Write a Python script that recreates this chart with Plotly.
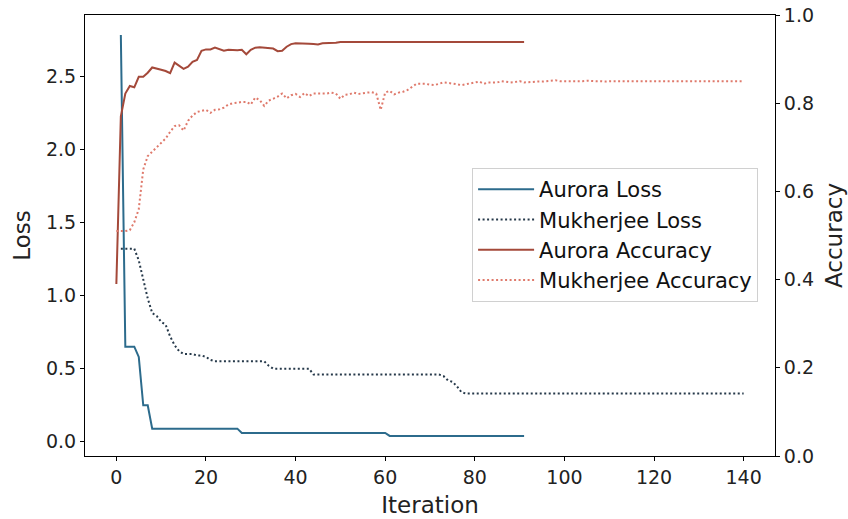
import plotly.graph_objects as go
from plotly.subplots import make_subplots

# Aurora loss, iterations 1..91
aurora_loss_x = list(range(1, 92))
aurora_loss = ([2.78, 0.65, 0.65, 0.65, 0.58, 0.25, 0.25] + [0.09] * 20 +
               [0.06] * 33 + [0.04] * 31)

# Mukherjee loss, iterations 1..140
mukherjee_loss_x = list(range(1, 141))
mukherjee_loss = ([1.32, 1.32, 1.32, 1.32, 1.24, 1.10, 0.98, 0.88, 0.86, 0.82,
                   0.80, 0.72, 0.66, 0.62, 0.60, 0.60, 0.60, 0.59, 0.59, 0.58,
                   0.56] + [0.55] * 12 + [0.52] + [0.50] * 9 + [0.46] * 29 +
                  [0.45, 0.42, 0.41, 0.38, 0.34] + [0.33] * 63)

# Aurora accuracy, iterations 0..91
aurora_acc_x = list(range(0, 92))
aurora_acc = [0.39, 0.77, 0.822, 0.839, 0.836, 0.860, 0.860, 0.869, 0.881, 0.879,
              0.876, 0.873, 0.868, 0.892, 0.885, 0.878, 0.883, 0.894, 0.898, 0.919,
              0.922, 0.922, 0.926, 0.922, 0.919, 0.921, 0.920, 0.920, 0.921, 0.911,
              0.921, 0.926, 0.927, 0.926, 0.926, 0.924, 0.918, 0.919, 0.928, 0.934,
              0.936, 0.936, 0.936, 0.935, 0.934, 0.933, 0.936, 0.936, 0.936, 0.937,
              0.939] + [0.939] * 41

# Mukherjee accuracy, iterations 0..140
mukherjee_acc_x = list(range(0, 141))
mukherjee_acc = [0.51, 0.51, 0.51, 0.512, 0.53, 0.56, 0.65, 0.68, 0.69, 0.70,
                 0.71, 0.72, 0.735, 0.748, 0.75, 0.738, 0.76, 0.772, 0.78, 0.783,
                 0.785, 0.778, 0.785, 0.786, 0.79, 0.797, 0.80, 0.801, 0.803, 0.803,
                 0.797, 0.813, 0.807, 0.794, 0.806, 0.81, 0.815, 0.822, 0.811, 0.818,
                 0.821, 0.814, 0.823, 0.816, 0.822, 0.822, 0.822, 0.822, 0.824, 0.822,
                 0.81, 0.819, 0.82, 0.824, 0.821, 0.823, 0.824, 0.825, 0.822, 0.785,
                 0.824, 0.828, 0.82, 0.824, 0.826, 0.83, 0.838, 0.844, 0.844, 0.844,
                 0.842, 0.841, 0.844, 0.847, 0.846, 0.845, 0.843, 0.841, 0.843, 0.846,
                 0.848, 0.849, 0.844, 0.847, 0.847, 0.847, 0.85, 0.848, 0.847, 0.848,
                 0.85, 0.847, 0.848, 0.848, 0.849, 0.849, 0.85, 0.851, 0.852, 0.85,
                 0.85, 0.85, 0.849, 0.85, 0.85, 0.851, 0.85, 0.85, 0.85, 0.849,
                 0.85, 0.85, 0.85, 0.85, 0.851, 0.85, 0.85, 0.85, 0.85, 0.85,
                 0.85, 0.85, 0.85, 0.85, 0.85, 0.85, 0.85, 0.85, 0.85, 0.85,
                 0.85, 0.85, 0.85, 0.85, 0.85, 0.85, 0.85, 0.85, 0.85, 0.85,
                 0.85]

x_ticks = [0, 20, 40, 60, 80, 100, 120, 140]
loss_ticks = [0.0, 0.5, 1.0, 1.5, 2.0, 2.5]
acc_ticks = [0.0, 0.2, 0.4, 0.6, 0.8, 1.0]

C_AL = "#2c6b8c"
C_ML = "#26394a"
C_AA = "#a4493a"
C_MA = "#df7a6c"
FONT = "DejaVu Sans"
DOT = "2px,2.5px"

fig = make_subplots(specs=[[{"secondary_y": True}]])
fig.add_trace(go.Scatter(x=aurora_loss_x, y=aurora_loss, mode="lines", name="Aurora Loss",
                         line=dict(color=C_AL, width=2)), secondary_y=False)
fig.add_trace(go.Scatter(x=mukherjee_loss_x, y=mukherjee_loss, mode="lines", name="Mukherjee Loss",
                         line=dict(color=C_ML, width=2, dash=DOT)), secondary_y=False)
fig.add_trace(go.Scatter(x=aurora_acc_x, y=aurora_acc, mode="lines", name="Aurora Accuracy",
                         line=dict(color=C_AA, width=2)), secondary_y=True)
fig.add_trace(go.Scatter(x=mukherjee_acc_x, y=mukherjee_acc, mode="lines", name="Mukherjee Accuracy",
                         line=dict(color=C_MA, width=2, dash=DOT)), secondary_y=True)

axis_common = dict(showgrid=False, zeroline=False, showline=True, linecolor="black",
                   linewidth=1, ticks="outside", ticklen=4, tickcolor="black",
                   automargin=False,
                   tickfont=dict(family=FONT, size=19, color="#222222"))

fig.update_xaxes(range=[-7, 147], tickvals=x_ticks, mirror=True, domain=[0, 1],
                 title=dict(text="Iteration", font=dict(family=FONT, size=23, color="#222222"),
                            standoff=10),
                 **axis_common)
fig.update_yaxes(range=[-0.097, 2.917], tickvals=loss_ticks, tickformat=".1f",
                 title=dict(text="Loss", font=dict(family=FONT, size=23, color="#222222"),
                            standoff=8),
                 secondary_y=False, **axis_common)
fig.update_yaxes(range=[0, 1.0], tickvals=acc_ticks, tickformat=".1f",
                 title=dict(text="Accuracy", font=dict(family=FONT, size=23, color="#222222"),
                            standoff=12),
                 secondary_y=True, **axis_common)

fig.update_layout(
    width=848, height=519,
    margin=dict(l=85, r=73, t=15, b=63),
    plot_bgcolor="white", paper_bgcolor="white",
    font=dict(family=FONT, color="#222222"),
    legend=dict(x=0.561, y=0.653, xanchor="left", yanchor="top",
                bgcolor="rgba(255,255,255,0.8)", bordercolor="#d0d0d0", borderwidth=1,
                font=dict(family=FONT, size=21, color="#111111"),
                itemwidth=56, tracegroupgap=0),
    showlegend=True,
)

fig.write_html("out.html")
